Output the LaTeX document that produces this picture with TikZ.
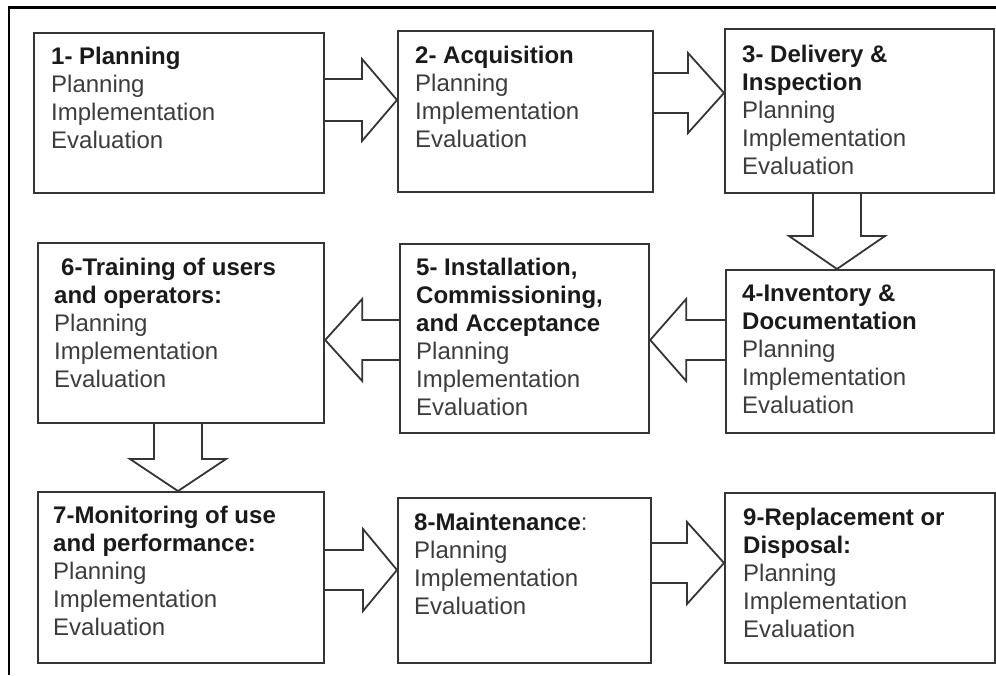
\documentclass[tikz,border=0pt]{standalone}
\usepackage{fontspec}
\setmainfont{Liberation Sans}
\usetikzlibrary{positioning,calc}
\definecolor{boxgray}{HTML}{353535}
\definecolor{textgray}{HTML}{3C3C3C}
\definecolor{headblack}{HTML}{1A1A1A}

\tikzset{
  stage/.style={draw=boxgray, line width=2.2pt, anchor=north west, inner sep=0pt},
  stagetext/.style={anchor=north west, inner sep=0pt, align=left, text=textgray,
    font=\fontsize{24pt}{28pt}\selectfont},
  fatline/.style={draw=boxgray, line width=1.8pt, line join=miter},
}
\newcommand{\head}[1]{\textbf{\color{headblack}#1}}
\newcommand{\phases}{Planning\\Implementation\\Evaluation}
% hollow block arrow: tail, tip, direction (dx,dy), shaft half-width, head half-width, head length
\newcommand{\fatarrow}[7]{%
  \draw[fatline]
    ($(#1)+({-(#5)*(#4)},{(#5)*(#3)})$)
    -- ($(#2)+({-(#7)*(#3)-(#5)*(#4)},{-(#7)*(#4)+(#5)*(#3)})$)
    -- ($(#2)+({-(#7)*(#3)-(#6)*(#4)},{-(#7)*(#4)+(#6)*(#3)})$)
    -- (#2)
    -- ($(#2)+({-(#7)*(#3)+(#6)*(#4)},{-(#7)*(#4)-(#6)*(#3)})$)
    -- ($(#2)+({-(#7)*(#3)+(#5)*(#4)},{-(#7)*(#4)-(#5)*(#3)})$)
    -- ($(#1)+({(#5)*(#4)},{-(#5)*(#3)})$);}

\begin{document}
\begin{tikzpicture}[x=1pt,y=-1pt]
\useasboundingbox (0,0) rectangle (996,675);
\draw[line width=2.4pt] (9,675) -- (9,7.5) -- (996,7.5);

% the nine stage boxes
\foreach \n/\x/\y/\w/\h in {1/33/32/290/160, 2/397/30/255/161, 3/724/28/269/164,
  4/725/269/268/163, 5/399/243/249/189, 6/37/242/286/180,
  7/37/491/286/171, 8/397/497/253/165, 9/724/492/270/170}{
  \node[stage, minimum width=\w pt, minimum height=\h pt] (b\n) at (\x,\y) {};
}

\node[stagetext] (t1) at ([shift={(18,15)}]b1.north west) {\head{1- Planning}\\\phases};
\node[stagetext] (t2) at ([shift={(18,16)}]b2.north west) {\head{2- Acquisition}\\\phases};
\node[stagetext] (t3) at ([shift={(18,17)}]b3.north west) {\head{3- Delivery \&}\\\head{Inspection}\\\phases};
\node[stagetext] (t4) at ([shift={(17,16)}]b4.north west) {\head{4-Inventory \&}\\\head{Documentation}\\\phases};
\node[stagetext] (t5) at ([shift={(17,15)}]b5.north west) {\head{5- Installation,}\\\head{Commissioning,}\\\head{and Acceptance}\\\phases};
\node[stagetext] (t6) at ([shift={(17,16)}]b6.north west) {\head{\hspace*{7pt}6-Training of users}\\\head{and operators:}\\\phases};
\node[stagetext] (t7) at ([shift={(16,15)}]b7.north west) {\head{7-Monitoring of use}\\\head{and performance:}\\\phases};
\node[stagetext] (t8) at ([shift={(17,16)}]b8.north west) {\head{8-Maintenance}:\\\phases};
\node[stagetext] (t9) at ([shift={(19,16)}]b9.north west) {\head{9-Replacement or}\\\head{Disposal:}\\\phases};

% block arrows between the stages
\fatarrow{b1.east |- 0,100}{b2.west |- 0,100}{1}{0}{21}{41}{35}
\fatarrow{b2.east |- 0,93}{b3.west |- 0,93}{1}{0}{20}{40}{36}
\fatarrow{b3.south -| 837,0}{b4.north -| 837,0}{0}{1}{24}{48}{33}
\fatarrow{b4.west |- 0,340}{b5.east |- 0,340}{-1}{0}{20}{41}{36}
\fatarrow{b5.west |- 0,340}{b6.east |- 0,340}{-1}{0}{20}{41}{37}
\fatarrow{b6.south -| 178,0}{b7.north -| 178,0}{0}{1}{24}{48}{32}
\fatarrow{b7.east |- 0,570}{b8.west |- 0,570}{1}{0}{20}{41}{34}
\fatarrow{b8.east |- 0,563}{b9.west |- 0,563}{1}{0}{20}{41}{37}
\end{tikzpicture}
\end{document}
